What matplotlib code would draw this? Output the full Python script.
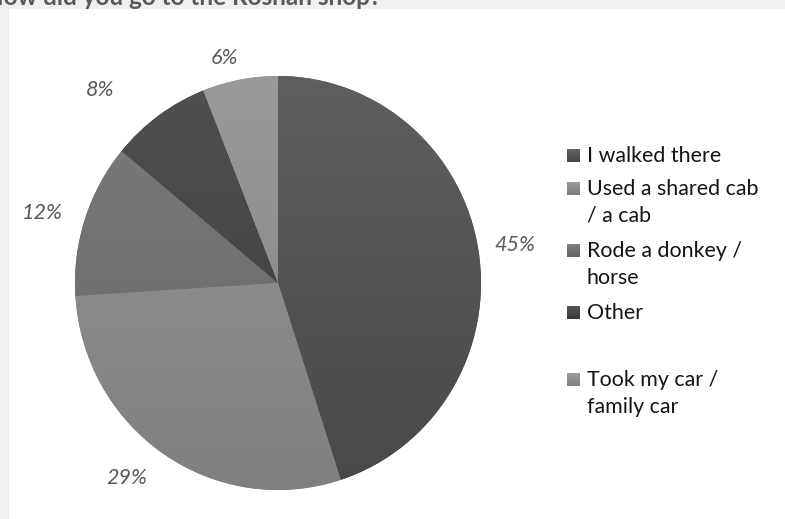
import numpy as np
import matplotlib
matplotlib.use("Agg")
import matplotlib.pyplot as plt
from matplotlib.colors import to_rgb
from matplotlib.patches import Rectangle

# Survey responses
categories = ["I walked there", "Used a shared cab\n/ a cab", "Rode a donkey /\nhorse",
              "Other", "Took my car /\nfamily car"]
shares = [45, 29, 12, 8, 6]
title = "How did you go to the Roshan shop?"

slice_colors = ["#4f4f4f", "#868686", "#6c6c6c", "#414141", "#8a8a8a"]

# outside-end label placement: distance from centre (in radii) and angular nudge (deg)
label_dist = [1.18, 1.20, 1.21, 1.28, 1.12]
label_nudge = [0.0, 4.0, -1.7, -7.3, -2.9]

W, H = 785, 519
fig = plt.figure(figsize=(W / 100, H / 100), dpi=100, facecolor="#f0f0f0")

# white chart area
fig.patches.append(Rectangle((9 / W, 0), 1, (H - 9) / H, transform=fig.transFigure,
                             facecolor="white", edgecolor="none", zorder=0))

FONT = "Lato"


def shade(col, top=0.06, bottom=-0.025, n=256):
    """Vertical gradient image: slightly lighter at the top, darker at the bottom."""
    base = np.array(to_rgb(col))
    t = np.linspace(top, bottom, n)[:, None]
    rgb = np.clip(base[None, :] + t, 0, 1)
    return rgb[:, None, :]


# title, partly running off the top-left edge
fig.text(-15 / W, 1 - 5 / H, title, fontsize=17.5, fontweight="bold", color="#595959",
         family=FONT, ha="left", va="baseline")

# pie axes placed in pixel units
cx, cy, rx, ry = 278, 283, 203, 207
ax = fig.add_axes([(cx - rx) / W, 1 - (cy + ry) / H, 2 * rx / W, 2 * ry / H], zorder=3)
ax.patch.set_visible(False)
wedges, _ = ax.pie(shares, colors=slice_colors, startangle=90, counterclock=False,
                   wedgeprops=dict(linewidth=0))

# soft gradient fill on each slice
for w, col in zip(wedges, slice_colors):
    im = ax.imshow(shade(col), extent=(-1, 1, -1, 1), origin="upper",
                   interpolation="bilinear", zorder=w.get_zorder() + 0.1)
    im.set_clip_path(w)

ax.set_aspect("auto")
ax.set_xlim(-1, 1)
ax.set_ylim(-1, 1)
ax.axis("off")

# percentage labels around the pie, from each slice's mid-angle
total = sum(shares)
start = 0.0
for v, d, nudge in zip(shares, label_dist, label_nudge):
    mid = np.deg2rad((start + v / 2) / total * 360 + nudge)  # clockwise from 12 o'clock
    start += v
    ax.text(d * np.sin(mid), d * np.cos(mid), f"{v / total * 100:.0f}%", fontsize=15.5,
            style="italic", color="#595959", family=FONT, ha="center", va="center",
            clip_on=False)

# legend drawn entry by entry
entry_baselines = [162, 195, 257, 319, 386]
line_step = 27
lax = fig.add_axes([0, 0, 1, 1], zorder=4)
lax.set_xlim(0, W)
lax.set_ylim(H, 0)
lax.axis("off")
for label, col, base in zip(categories, slice_colors, entry_baselines):
    lax.imshow(shade(col, 0.08, -0.04), extent=(567, 580, base, base - 13),
               interpolation="bilinear", aspect="auto")
    for i, line in enumerate(label.split("\n")):
        lax.text(587, base + i * line_step, line, fontsize=15.4,
                 color="#141414", family=FONT, ha="left", va="baseline")
lax.set_xlim(0, W)
lax.set_ylim(H, 0)

fig.savefig("out.png", dpi=100, facecolor=fig.get_facecolor())
